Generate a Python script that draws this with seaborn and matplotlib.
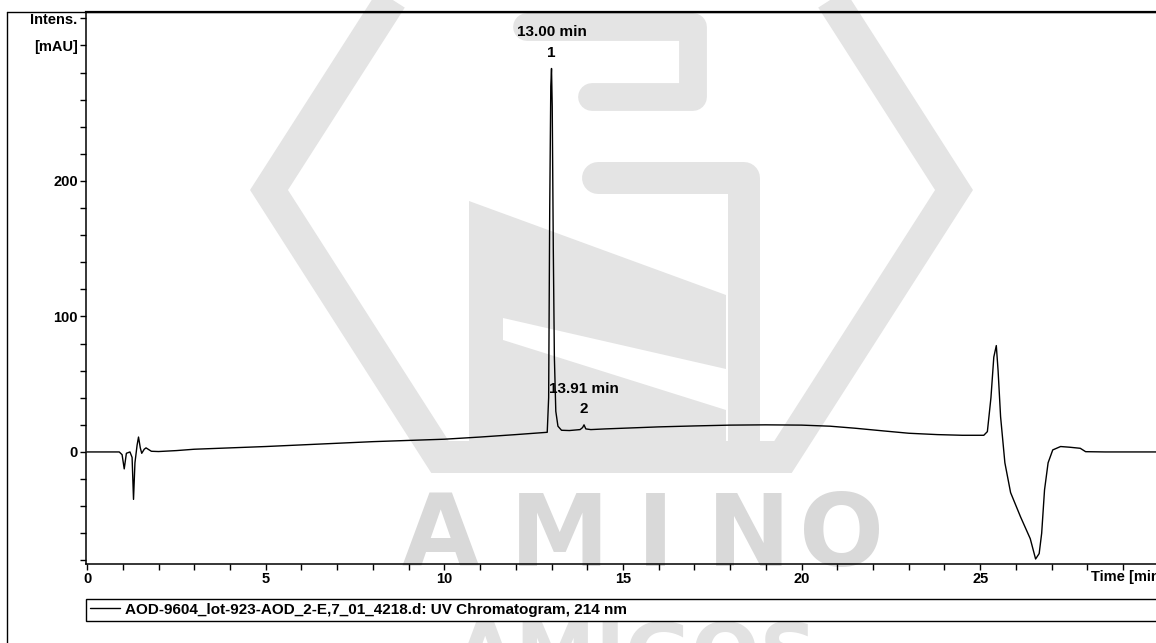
import numpy as np
import pandas as pd
import seaborn as sns
import matplotlib.pyplot as plt
from matplotlib.patches import Polygon

# chromatogram trace (time in min, intensity in mAU)
time_min = [0.0, 0.90, 0.98, 1.04, 1.10, 1.20, 1.26, 1.30, 1.34, 1.40,
            1.44, 1.49, 1.53, 1.60, 1.65, 1.80, 2.0, 2.5, 3.0, 4.0,
            5.0, 6.0, 7.0, 8.0, 9.0, 10.0, 11.0, 12.0, 12.88, 12.92,
            12.95, 12.98, 13.00, 13.02, 13.05, 13.08, 13.12, 13.18, 13.28, 13.5,
            13.8, 13.87, 13.91, 13.96, 14.1, 14.5, 15.0, 16.0, 17.0, 18.0,
            19.0, 20.0, 20.8, 21.5, 22.3, 23.0, 23.8, 24.5, 25.1, 25.2,
            25.3, 25.38, 25.45, 25.5, 25.57, 25.69, 25.85, 26.13, 26.40, 26.55,
            26.65, 26.72, 26.80, 26.90, 27.03, 27.25, 27.5, 27.8, 27.95, 28.5,
            29.5, 30.2]
intensity = [0.0, 0.0, -2, -12.5, -1, 0, -4, -35, -8, 5,
             11, 3, -1, 2, 3, 0.5, 0.3, 1.0, 2.0, 3.0,
             4.0, 5.2, 6.4, 7.6, 8.5, 9.4, 11.0, 12.8, 14.5, 40,
             180, 270, 283, 255, 150, 70, 30, 19, 16, 15.8,
             16.5, 18, 20, 17, 16.5, 17, 17.5, 18.5, 19.2, 19.8,
             20, 19.8, 19, 17.5, 15.5, 13.8, 12.8, 12.3, 12.3, 15,
             40, 70, 78.5, 60, 26, -8, -30, -48, -64, -79,
             -75, -60, -28, -8, 1.5, 4, 3.5, 2.7, 0.2, 0,
             0, 0]

peak_times = [13.00, 13.91]
peak_names = ['1', '2']
peak_labels = ['13.00 min', '13.91 min']

trace_name = 'AOD-9604_lot-923-AOD_2-E,7_01_4218.d: UV Chromatogram, 214 nm'

x_ticks = list(range(0, 31))
x_ticklabels = ['0', '', '', '', '', '5', '', '', '', '', '10', '', '', '', '', '15',
                '', '', '', '', '20', '', '', '', '', '25', '', '', '', '', '']
y_ticks = list(range(-80, 321, 20))
y_ticklabels = ['', '', '', '', '0', '', '', '', '', '100', '', '', '', '', '200',
                '', '', '', '', '[mAU]', 'Intens.']

sns.set_style('ticks', {'axes.edgecolor': 'black', 'xtick.color': 'black',
                        'ytick.color': 'black', 'text.color': 'black'})
plt.rcParams['font.family'] = ['Liberation Sans', 'DejaVu Sans']

fig = plt.figure(figsize=(11.56, 6.43), dpi=100)

# background layer in pixel coordinates: watermark + outer frame
bg = fig.add_axes([0, 0, 1, 1], zorder=0)
bg.set_xlim(0, 1156)
bg.set_ylim(643, 0)
bg.axis('off')
wm = '#e4e4e4'
hexagon = Polygon([(440, -77), (269, 190), (440, 457), (783, 457), (954, 190), (783, -77)],
                  closed=True, fill=False, edgecolor=wm, linewidth=23, joinstyle='miter')
bg.add_patch(hexagon)
bg.plot([527, 693, 693, 592], [27, 27, 97, 97], color=wm, lw=20,
        solid_capstyle='round', solid_joinstyle='round')
bg.plot([598, 744, 744], [178, 178, 457], color=wm, lw=23,
        solid_capstyle='round', solid_joinstyle='round')
bg.add_patch(Polygon([(469, 201), (726, 295), (726, 457), (469, 457)], color=wm, lw=0))
bg.add_patch(Polygon([(503, 318), (726, 369), (726, 410), (503, 340)], color='white', lw=0))
for letter, xc in zip('AMINO', [440, 560, 655, 749, 841]):
    bg.text(xc, 566, letter, ha='center', va='baseline', fontsize=72,
            fontweight='bold', color='#d9d9d9', family=['DejaVu Sans'])
bg.text(636, 681, 'AMIGOS', ha='center', va='baseline', fontsize=58,
        fontweight='bold', color='#e2e2e2', family=['DejaVu Sans'])
bg.plot([7, 7], [12, 643], color='black', lw=1)
bg.plot([7, 1156], [12, 12], color='black', lw=1)

# main chromatogram axes
ax = fig.add_axes([86 / 1156, 79 / 643, 1080 / 1156, 552 / 643], zorder=1)
ax.patch.set_alpha(0)

df = pd.DataFrame({'time': time_min, 'intensity': intensity})
sns.lineplot(data=df, x='time', y='intensity', estimator=None, sort=False,
             color='black', linewidth=1.0, ax=ax, label=trace_name)

ax.set_xlim(-0.03, 30.2)
ax.set_ylim(-82.7, 324.7)
ax.set_xticks(x_ticks)
ax.set_xticklabels(x_ticklabels)
ax.set_yticks(y_ticks)
ax.set_yticklabels(y_ticklabels)
ax.tick_params(direction='out', length=4, width=1, labelsize=10.5, pad=2)
for lbl in ax.get_xticklabels() + ax.get_yticklabels():
    lbl.set_fontweight('bold')
ax.set_xlabel('')
ax.set_ylabel('')
for side in ['left', 'bottom']:
    ax.spines[side].set_linewidth(1.1)
ax.spines['top'].set_linewidth(1.6)
ax.spines['right'].set_visible(False)

ax.text(28.1, -0.0236, 'Time [min]', transform=ax.get_xaxis_transform(),
        ha='left', va='center', fontsize=10.5, fontweight='bold')

# peak labels
for t, name, lab in zip(peak_times, peak_names, peak_labels):
    h = df.loc[df['time'] == t, 'intensity'].iloc[0]
    ax.annotate(name, xy=(t, h), xytext=(0, 11.5), textcoords='offset points',
                ha='center', va='center', fontsize=11, fontweight='bold')
    ax.annotate(lab, xy=(t, h), xytext=(0, 26), textcoords='offset points',
                ha='center', va='center', fontsize=11, fontweight='bold')

leg = ax.legend(loc='upper left', bbox_to_anchor=(0, -0.1033, 1, 0.04), mode='expand',
                borderaxespad=0, frameon=True, fancybox=False, edgecolor='black',
                framealpha=1, handlelength=2.0, handletextpad=0.3, borderpad=0.25,
                prop={'weight': 'bold', 'size': 11})
leg.get_frame().set_linewidth(1.0)

fig.savefig('out.png', dpi=100)
